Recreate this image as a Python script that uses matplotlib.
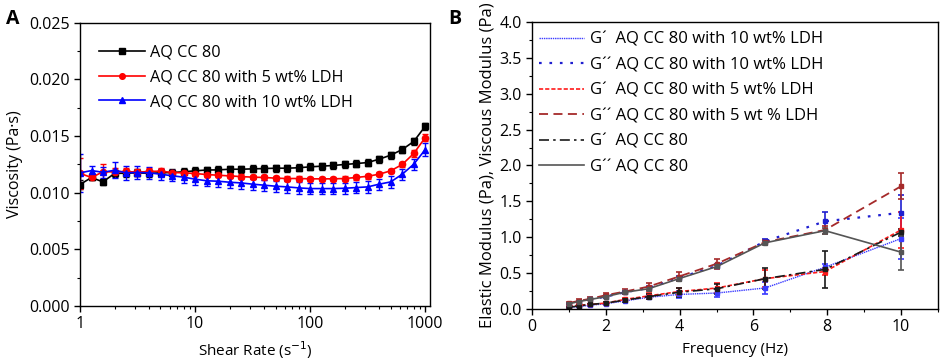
import matplotlib
matplotlib.use("Agg")
import matplotlib.pyplot as plt
from matplotlib.lines import Line2D
from matplotlib.ticker import FormatStrFormatter, MultipleLocator, LogLocator, NullFormatter

plt.rcParams["font.family"] = ["Open Sans", "DejaVu Sans"]
plt.rcParams["font.size"] = 11
plt.rcParams["axes.linewidth"] = 1.0
plt.rcParams["xtick.direction"] = "out"
plt.rcParams["ytick.direction"] = "out"

# ---- Panel A: viscosity vs shear rate ----
shear_rate = [1, 1.26, 1.58, 2, 2.51, 3.16, 3.98, 5.01, 6.31, 7.94,
              10, 12.6, 15.8, 20, 25.1, 31.6, 39.8, 50.1, 63.1, 79.4,
              100, 126, 158, 200, 251, 316, 398, 501, 631, 794, 1000]
visc_0 = [0.01072, 0.01134, 0.01095, 0.01170, 0.01172, 0.01175, 0.01170, 0.01175, 0.01178, 0.01184,
          0.01193, 0.01200, 0.01201, 0.01207, 0.01207, 0.01210, 0.01213, 0.01216, 0.01216, 0.01220,
          0.01228, 0.01234, 0.01240, 0.01249, 0.01257, 0.01266, 0.01296, 0.01331, 0.01381, 0.01452, 0.01587]
visc_0_err = [0.0004, 0.0002, 0.0003, 0.0003, 0.0003, 0.0003, 0.0003, 0.0003, 0.0003, 0.0003,
              0.0003, 0.0003, 0.0003, 0.0003, 0.0003, 0.0003, 0.0003, 0.0003, 0.0003, 0.0003,
              0.0003, 0.0003, 0.0003, 0.0003, 0.0003, 0.0003, 0.0003, 0.0003, 0.0003, 0.0003, 0.0003]
visc_5 = [0.01170, 0.01134, 0.01184, 0.01184, 0.01187, 0.01181, 0.01187, 0.01190, 0.01178, 0.01175,
          0.01169, 0.01160, 0.01154, 0.01148, 0.01142, 0.01137, 0.01134, 0.01128, 0.01125, 0.01125,
          0.01122, 0.01122, 0.01122, 0.01125, 0.01134, 0.01145, 0.01163, 0.01193, 0.01249, 0.01346, 0.01487]
visc_5_err = [0.0014, 0.0002, 0.0007, 0.0003, 0.0003, 0.0003, 0.0003, 0.0003, 0.0002, 0.0002,
              0.0002, 0.0002, 0.0002, 0.0002, 0.0002, 0.0002, 0.0002, 0.0002, 0.0002, 0.0002,
              0.0002, 0.0002, 0.0002, 0.0002, 0.0002, 0.0002, 0.0002, 0.0002, 0.0002, 0.0003, 0.0003]
visc_10 = [0.01175, 0.01195, 0.01180, 0.01198, 0.01175, 0.01178, 0.01175, 0.01163, 0.01149, 0.01137,
           0.01119, 0.01105, 0.01101, 0.01092, 0.01086, 0.01075, 0.01066, 0.01057, 0.01051, 0.01042,
           0.01036, 0.01036, 0.01036, 0.01039, 0.01045, 0.01051, 0.01075, 0.01095, 0.01163, 0.01251, 0.01381]
visc_10_err = [0.0017, 0.0004, 0.0005, 0.0007, 0.0006, 0.0006, 0.0005, 0.0005, 0.0005, 0.0005,
               0.0005, 0.0005, 0.0005, 0.0005, 0.0005, 0.0005, 0.0005, 0.0005, 0.0005, 0.0005,
               0.0005, 0.0005, 0.0005, 0.0005, 0.0005, 0.0005, 0.0005, 0.0005, 0.0005, 0.0005, 0.0006]

# ---- Panel B: moduli vs frequency ----
freq = [1, 1.26, 1.58, 2, 2.51, 3.16, 3.98, 5.01, 6.31, 7.94, 10]
g1_10 = [0.02, 0.03, 0.05, 0.07, 0.11, 0.16, 0.20, 0.22, 0.29, 0.58, 0.98]
g1_10_err = [0.01, 0.01, 0.01, 0.02, 0.02, 0.03, 0.05, 0.05, 0.09, 0.04, 0.28]
g2_10 = [0.07, 0.10, 0.13, 0.17, 0.23, 0.29, 0.43, 0.60, 0.94, 1.22, 1.34]
g2_10_err = [0.01, 0.01, 0.01, 0.02, 0.02, 0.03, 0.03, 0.03, 0.03, 0.13, 0.25]
g1_5 = [0.03, 0.05, 0.06, 0.08, 0.13, 0.18, 0.24, 0.29, 0.42, 0.52, 1.10]
g1_5_err = [0.01, 0.01, 0.01, 0.02, 0.02, 0.04, 0.05, 0.07, 0.12, 0.05, 0.25]
g2_5 = [0.08, 0.11, 0.14, 0.19, 0.24, 0.31, 0.45, 0.63, 0.93, 1.10, 1.71]
g2_5_err = [0.01, 0.02, 0.02, 0.03, 0.03, 0.05, 0.06, 0.07, 0.03, 0.05, 0.18]
g1_0 = [0.02, 0.04, 0.06, 0.08, 0.12, 0.17, 0.23, 0.28, 0.42, 0.55, 1.07]
g1_0_err = [0.01, 0.01, 0.01, 0.02, 0.02, 0.03, 0.06, 0.07, 0.15, 0.26, 0.05]
g2_0 = [0.07, 0.10, 0.13, 0.17, 0.23, 0.28, 0.42, 0.59, 0.92, 1.09, 0.79]
g2_0_err = [0.01, 0.01, 0.01, 0.02, 0.02, 0.03, 0.03, 0.02, 0.03, 0.04, 0.25]

fig = plt.figure(figsize=(9.41, 3.62), dpi=100)
axA = fig.add_axes([0.085, 0.155, 0.372, 0.782])
axB = fig.add_axes([0.5654, 0.147, 0.4314, 0.792])

# Panel A
seriesA = [
    (visc_0, visc_0_err, "black", "s", "AQ CC 80"),
    (visc_5, visc_5_err, "#ff0000", "o", "AQ CC 80 with 5 wt% LDH"),
    (visc_10, visc_10_err, "#0000ff", "^", "AQ CC 80 with 10 wt% LDH"),
]
for vals, errs, col, mk, lab in seriesA:
    axA.errorbar(shear_rate, vals, yerr=errs, color=col, marker=mk, markersize=4.5,
                 linewidth=1.2, elinewidth=1.0, capsize=2.5, capthick=1.0, label=lab)
axA.set_xscale("log")
axA.set_xlim(1, 1100)
axA.set_ylim(0, 0.025)
axA.yaxis.set_major_locator(MultipleLocator(0.005))
axA.yaxis.set_minor_locator(MultipleLocator(0.0025))
axA.yaxis.set_major_formatter(FormatStrFormatter("%.3f"))
axA.xaxis.set_minor_locator(LogLocator(base=10, subs=[2, 3, 4, 5, 6, 7, 8, 9], numticks=10))
axA.xaxis.set_minor_formatter(NullFormatter())
axA.set_xticks([1, 10, 100, 1000])
axA.set_xticklabels(["1", "10", "100", "1000"])
axA.set_xlabel("Shear Rate (s$^{-1}$)", fontsize=11, labelpad=5)
axA.set_ylabel("Viscosity (Pa·s)", fontsize=11.5, labelpad=4)
handlesA, labelsA = axA.get_legend_handles_labels()
handlesA = [h[0] for h in handlesA]
axA.legend(handlesA, labelsA, loc="upper left", frameon=False, fontsize=11.7,
           handlelength=2.8, handletextpad=0.35, labelspacing=0.53, markerscale=0.9,
           bbox_to_anchor=(0.036, 0.945), borderaxespad=0.0)

# Panel B
seriesB = [
    (g1_10, g1_10_err, "#3a3aff", (0, (1, 0.6)), 1.0, "G\u00b4  AQ CC 80 with 10 wt% LDH"),
    (g2_10, g2_10_err, "#1f1fd0", (0, (1.2, 3.5)), 1.6, "G\u00b4\u00b4 AQ CC 80 with 10 wt% LDH"),
    (g1_5, g1_5_err, "#ff1a1a", (0, (2.5, 1.2)), 1.2, "G\u00b4  AQ CC 80 with 5 wt% LDH"),
    (g2_5, g2_5_err, "#a52a2a", (0, (5, 3)), 1.3, "G\u00b4\u00b4 AQ CC 80 with 5 wt % LDH"),
    (g1_0, g1_0_err, "#1a1a1a", (0, (6, 2.5, 1.5, 2.5)), 1.2, "G\u00b4  AQ CC 80"),
    (g2_0, g2_0_err, "#555555", "-", 1.2, "G\u00b4\u00b4 AQ CC 80"),
]
handlesB = []
for vals, errs, col, ls, lw, lab in seriesB:
    axB.errorbar(freq, vals, yerr=errs, color=col, linestyle=ls, linewidth=lw,
                 marker="s", markersize=2.5, elinewidth=1.2, capsize=2.5, capthick=1.2)
    handlesB.append(Line2D([], [], color=col, linestyle=ls, linewidth=lw, label=lab))
axB.set_xlim(0, 11)
axB.set_ylim(0, 4)
axB.xaxis.set_major_locator(MultipleLocator(2))
axB.xaxis.set_minor_locator(MultipleLocator(1))
axB.yaxis.set_major_locator(MultipleLocator(0.5))
axB.yaxis.set_minor_locator(MultipleLocator(0.25))
axB.yaxis.set_major_formatter(FormatStrFormatter("%.1f"))
axB.set_xlabel("Frequency (Hz)", fontsize=11, labelpad=5)
axB.set_ylabel("Elastic Modulus (Pa), Viscous Modulus (Pa)", fontsize=12, labelpad=3)
axB.legend(handles=handlesB, loc="upper left", frameon=False, fontsize=12,
           handlelength=2.7, handletextpad=0.4, labelspacing=0.57,
           bbox_to_anchor=(0.0, 0.99), borderaxespad=0.0)

for ax in (axA, axB):
    ax.tick_params(which="major", length=4, width=1.0, labelsize=11.5, top=False, right=False)
    ax.tick_params(which="minor", length=2, width=0.8, top=False, right=False)

fig.text(0.006, 0.975, "A", fontsize=14, fontweight="bold", va="top", ha="left")
fig.text(0.476, 0.975, "B", fontsize=14, fontweight="bold", va="top", ha="left")

fig.savefig("out.png", dpi=100)
